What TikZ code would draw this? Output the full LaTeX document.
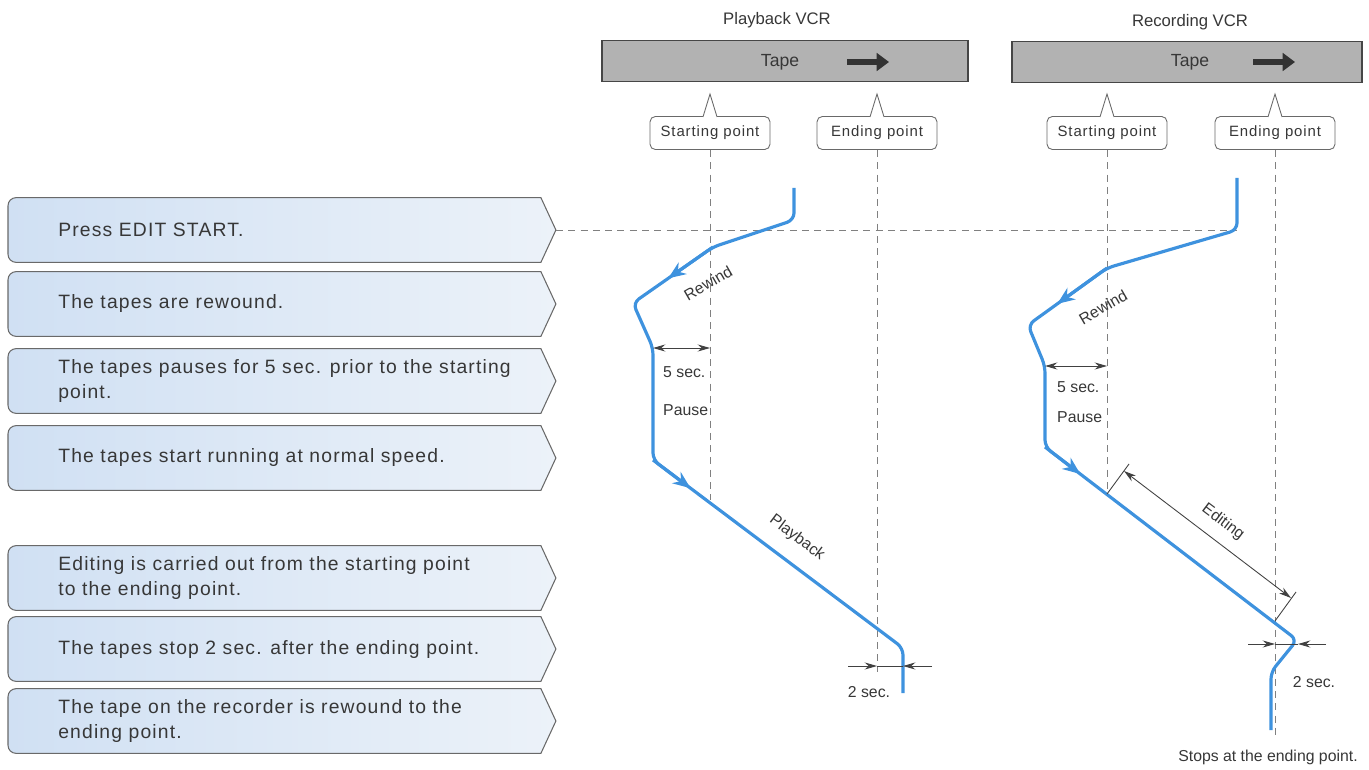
\documentclass[tikz,border=0pt]{standalone}
\usepackage{fontspec}
\setmainfont{Liberation Sans}
\newfontfamily\widefont[LetterSpace=6]{Liberation Sans}
\usetikzlibrary{arrows.meta, positioning, calc, backgrounds}
\definecolor{vcrblue}{RGB}{62,146,222}
\definecolor{dimgray}{RGB}{65,65,65}
\definecolor{textgray}{RGB}{55,55,55}
\definecolor{stepedge}{RGB}{105,105,105}
\definecolor{stepleft}{RGB}{208,224,243}
\definecolor{stepright}{RGB}{236,242,249}
\definecolor{tapegray}{RGB}{178,178,178}
\definecolor{tapeedge}{RGB}{70,70,70}

\begin{document}
\begin{tikzpicture}[x=0.02cm, y=-0.02cm,
  stepbox/.style={anchor=west, inner sep=0pt, minimum height=1.28cm,
                  align=left, font=\widefont\fontsize{11}{14}\selectfont, text=textgray},
  stepline/.style={draw=stepedge, line width=0.6pt,
                   left color=stepleft, right color=stepright},
  tapebar/.style={rectangle, draw=tapeedge, fill=tapegray, line width=0.8pt,
                  minimum height=0.82cm},
  tapetxt/.style={font=\fontsize{10}{12}\selectfont, text=textgray},
  title/.style={font=\fontsize{9.5}{12}\selectfont, text=textgray},
  callout/.style={rectangle, rounded corners=3pt, draw=stepedge, fill=white,
                  line width=0.5pt, minimum height=0.66cm, minimum width=2.4cm,
                  font=\widefont\fontsize{8.5}{10}\selectfont, text=textgray},
  spike/.style={draw=stepedge, fill=white, line width=0.5pt},
  guide/.style={draw=gray, dash pattern=on 4pt off 3pt, line width=0.4pt},
  vcrline/.style={draw=vcrblue, line width=1.8pt, rounded corners=4pt},
  flowtip/.style={draw=vcrblue, line width=1.8pt, -{Stealth[length=10pt, width=8pt]}},
  dimline/.style={draw=dimgray, line width=0.5pt},
  dimtip/.style={-{Stealth[length=7pt, width=4pt]}},
  tapearrow/.style={draw=black!80, line width=3.5pt, -{Triangle[length=7pt, width=10pt]}},
  lbl/.style={font=\fontsize{9}{11}\selectfont, text=textgray}
]
\useasboundingbox (0,0) rectangle (1369,770);

% Steps on the left
\node[stepbox] (s1) at (58,230) {Press EDIT START.};
\node[stepbox] (s2) at (58,304) {The tapes are rewound.};
\node[stepbox] (s3) at (58,381) {The tapes pauses for 5 sec. prior to the starting\\point.};
\node[stepbox] (s4) at (58,458) {The tapes start running at normal speed.};
\node[stepbox] (s5) at (58,578) {Editing is carried out from the starting point\\to the ending point.};
\node[stepbox] (s6) at (58,649) {The tapes stop 2 sec. after the ending point.};
\node[stepbox] (s7) at (58,721) {The tape on the recorder is rewound to the\\ending point.};
\begin{scope}[on background layer]
\foreach \s in {s1,s2,s3,s4,s5,s6,s7}
  \draw[stepline] ([xshift=9.66cm]\s.north west) -- ([xshift=-0.84cm]\s.north west)
    arc[start angle=90, end angle=180, radius=0.16cm]
    -- ([xshift=-1cm, yshift=0.16cm]\s.south west)
    arc[start angle=180, end angle=270, radius=0.16cm]
    -- ([xshift=9.66cm]\s.south west) -- ([xshift=9.96cm]\s.west) -- cycle;
\end{scope}
\coordinate (s1tip) at ([xshift=9.96cm]s1.west);

% Tapes
\node[tapebar, minimum width=7.32cm] (pbar) at (785,61) {};
\node[tapetxt] (ptape) at (780,62) {Tape};
\node[title] (ptitle) at (777,20) {Playback VCR};
\node[tapebar, minimum width=7.0cm] (rbar) at (1187,62) {};
\node[tapetxt] (rtape) at (1190,62) {Tape};
\node[title] (rtitle) at (1190,22) {Recording VCR};
\coordinate (parr0) at (847,62);
\coordinate (parr1) at (889,62);
\coordinate (rarr0) at (1253,62);
\coordinate (rarr1) at (1295,62);
\draw[tapearrow] (parr0) -- (parr1);
\draw[tapearrow] (rarr0) -- (rarr1);

% Callouts
\node[callout] (pstart) at (710,133) {Starting point};
\node[callout] (pend) at (877,133) {Ending point};
\node[callout] (rstart) at (1107,133) {Starting point};
\node[callout] (rend) at (1275,133) {Ending point};
\foreach \c in {pstart,pend,rstart,rend}
  \filldraw[spike] ([xshift=-4pt, yshift=-0.5pt]\c.north) -- ([yshift=0.44cm]\c.north)
    -- ([xshift=4pt, yshift=-0.5pt]\c.north);

% Curve points
\coordinate (pa) at (794,188);
\coordinate (pb) at (794,220);
\coordinate (pc) at (713,247);
\coordinate (pd) at (633,303);
\coordinate (pe) at (653,348);
\coordinate (pf) at (653,460);
\coordinate (pg) at (903,648);
\coordinate (ph) at (903,693);
\coordinate (ra) at (1237,178);
\coordinate (rb) at (1237,230);
\coordinate (rc) at (1107,268);
\coordinate (rd) at (1028,325);
\coordinate (re) at (1045,366);
\coordinate (rf) at (1045,447);
\coordinate (rg) at (1297,640);
\coordinate (rh) at (1271,672);
\coordinate (ri) at (1271,730);

% Guides
\draw[guide] (pstart.south) -- (710,500) coordinate (pstartend);
\draw[guide] (pend.south) -- (877,672) coordinate (pendend);
\draw[guide] (rstart.south) -- (1107,494) coordinate (rstartend);
\draw[guide] (rend.south) -- (1275,735) coordinate (rendend);
\draw[guide] (s1tip) -- (rb);

% Tape runs
\draw[vcrline] (pa) -- (pb) -- (pc) -- (pd) -- (pe) -- (pf) -- (pg) -- (ph);
\draw[flowtip] (pc) -- ($(pc)!0.56!(pd)$);
\draw[flowtip] (pf) -- ($(pf)!0.15!(pg)$);
\draw[vcrline] (ra) -- (rb) -- (rc) -- (rd) -- (re) -- (rf) -- (rg) -- (rh) -- (ri);
\draw[flowtip] (rc) -- ($(rc)!0.63!(rd)$);
\draw[flowtip] (rf) -- ($(rf)!0.14!(rg)$);

% Playback labels and dimensions
\node[lbl, rotate=30] (prew) at (708,283) {Rewind};
\node[lbl, rotate=-37] (pplay) at (797,538) {Playback};
\coordinate (p5) at (710,348);
\draw[dimline, {Stealth[length=7pt, width=4pt]}-{Stealth[length=7pt, width=4pt]}] (pe) -- (p5);
\node[lbl, anchor=west] (p5lbl) at (657,372) {5 sec.};
\node[lbl, anchor=west] (ppause) at (657,410) {Pause};
\coordinate (p2l) at (848,666);
\coordinate (p2a) at (877,666);
\coordinate (p2b) at (903,666);
\coordinate (p2r) at (932,666);
\draw[dimline] (p2a) -- (p2b);
\draw[dimline, dimtip] (p2l) -- (p2a);
\draw[dimline, dimtip] (p2r) -- (p2b);
\node[lbl] (p2lbl) at (869,692) {2 sec.};

% Recording labels and dimensions
\node[lbl, rotate=30] (rrew) at (1103,307) {Rewind};
\coordinate (r5) at (1107,366);
\draw[dimline, {Stealth[length=7pt, width=4pt]}-{Stealth[length=7pt, width=4pt]}] (re) -- (r5);
\node[lbl, anchor=west] (r5lbl) at (1051,387) {5 sec.};
\node[lbl, anchor=west] (rpause) at (1051,417) {Pause};
\coordinate (r2l) at (1248,644);
\coordinate (r2a) at (1275,644);
\coordinate (r2b) at (1298,644);
\coordinate (r2r) at (1326,644);
\draw[dimline] (r2a) -- (r2b);
\draw[dimline, dimtip] (r2l) -- (r2a);
\draw[dimline, dimtip] (r2r) -- (r2b);
\node[lbl] (r2lbl) at (1314,682) {2 sec.};
\coordinate (e1) at (1107,494);
\coordinate (e1x) at (1129,464);
\coordinate (e2) at (1275,621);
\coordinate (e2x) at (1296,592);
\coordinate (ea) at (1124,471);
\coordinate (eb) at (1291,598);
\draw[dimline] (e1) -- (e1x);
\draw[dimline] (e2) -- (e2x);
\draw[dimline, {Stealth[length=7pt, width=4pt]}-{Stealth[length=7pt, width=4pt]}] (ea) -- (eb);
\node[lbl, rotate=-37] (edit) at (1223,522) {Editing};
\node[lbl] (stops) at (1268,757) {Stops at the ending point.};
\end{tikzpicture}
\end{document}
